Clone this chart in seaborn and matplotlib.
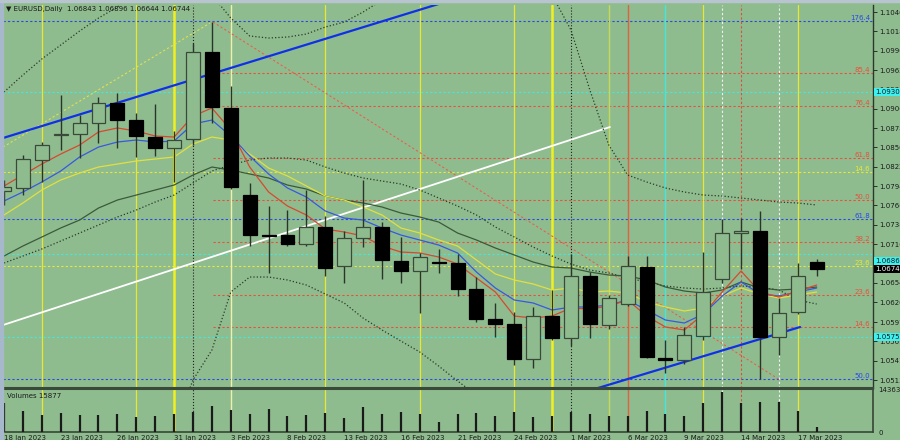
import numpy as np
import pandas as pd
import seaborn as sns
import matplotlib.pyplot as plt
from matplotlib.patches import Rectangle

# ---------------- data ----------------
dates = pd.bdate_range('2023-01-18', '2023-03-20')
idx = np.arange(len(dates))

opens = [1.07873, 1.07917, 1.08322, 1.08684, 1.08699, 1.08858, 1.09148, 1.08901, 1.08655, 1.08496,
         1.08626, 1.09886, 1.09075, 1.07815, 1.07236, 1.07236, 1.07106, 1.07352, 1.06787, 1.07193,
         1.07352, 1.06860, 1.06715, 1.06845, 1.06831, 1.06454, 1.06020, 1.05947, 1.05441, 1.06063,
         1.05745, 1.06642, 1.05933, 1.06237, 1.06773, 1.05455, 1.05426, 1.05774, 1.06599, 1.07265,
         1.07294, 1.05760, 1.06121, 1.06843]
highs = [1.08033, 1.08395, 1.08583, 1.09263, 1.08974, 1.09234, 1.09292, 1.09003, 1.09133, 1.08742,
         1.10016, 1.10320, 1.09394, 1.07989, 1.07656, 1.07598, 1.07888, 1.07511, 1.07294, 1.08033,
         1.07424, 1.07207, 1.06976, 1.07033, 1.06961, 1.06628, 1.06252, 1.06121, 1.06194, 1.06440,
         1.06961, 1.06700, 1.06367, 1.06932, 1.06932, 1.05716, 1.05904, 1.06990, 1.07468, 1.07482,
         1.07584, 1.06324, 1.06831, 1.06896]
lows = [1.07671, 1.07815, 1.08004, 1.08467, 1.08351, 1.08568, 1.08496, 1.08366, 1.08380, 1.08004,
        1.08539, 1.08858, 1.07902, 1.07077, 1.06686, 1.07077, 1.07077, 1.06642, 1.06541, 1.07062,
        1.06599, 1.06541, 1.06107, 1.06686, 1.06353, 1.05976, 1.05759, 1.05354, 1.05310, 1.05716,
        1.05629, 1.05745, 1.05875, 1.06208, 1.05455, 1.05238, 1.05368, 1.05716, 1.06541, 1.06744,
        1.05151, 1.05498, 1.06092, 1.06644]
closes = [1.07931, 1.08337, 1.08539, 1.08699, 1.08858, 1.09148, 1.08901, 1.08670, 1.08496, 1.08612,
          1.09886, 1.09090, 1.07931, 1.07236, 1.07229, 1.07106, 1.07352, 1.06758, 1.07193, 1.07352,
          1.06874, 1.06715, 1.06918, 1.06831, 1.06454, 1.06020, 1.05947, 1.05441, 1.06063, 1.05745,
          1.06642, 1.05947, 1.06324, 1.06787, 1.05470, 1.05426, 1.05788, 1.06411, 1.07265, 1.07294,
          1.05760, 1.06107, 1.06642, 1.06744]
volumes = [99200, 71800, 58100, 65000, 58100, 58100, 61600, 51300, 54700, 61600, 68400, 88900,
           75200, 61600, 78700, 54700, 58100, 65000, 47900, 85500, 61600, 68400, 61600, 34200,
           61600, 65000, 54700, 68400, 51300, 54700, 68400, 61600, 54700, 54700, 71800, 61600,
           54700, 99200, 136800, 99200, 102600, 102600, 71800, 15877]

ma_red = [1.07946, 1.08105, 1.08264, 1.08409, 1.08539, 1.08728, 1.08786, 1.08742, 1.08670, 1.08655,
          1.08959, 1.09075, 1.08757, 1.08221, 1.07859, 1.07656, 1.07526, 1.07323, 1.07280, 1.07222,
          1.07077, 1.06990, 1.06976, 1.06918, 1.06816, 1.06614, 1.06411, 1.06063, 1.06034, 1.06063,
          1.06179, 1.06165, 1.06208, 1.06295, 1.06063, 1.05904, 1.05861, 1.06092, 1.06411, 1.06715,
          1.06411, 1.06338, 1.06425, 1.06512]
ma_blue = [1.07729, 1.07859, 1.08004, 1.08163, 1.08366, 1.08510, 1.08583, 1.08612, 1.08583, 1.08597,
           1.08844, 1.08901, 1.08670, 1.08380, 1.08120, 1.07917, 1.07786, 1.07584, 1.07482, 1.07453,
           1.07338, 1.07236, 1.07164, 1.07091, 1.06976, 1.06700, 1.06469, 1.06295, 1.06252, 1.06150,
           1.06194, 1.06194, 1.06223, 1.06295, 1.06150, 1.06005, 1.05962, 1.06092, 1.06353, 1.06556,
           1.06382, 1.06353, 1.06411, 1.06469]
ma_yellow = [1.07526, 1.07700, 1.07888, 1.08033, 1.08134, 1.08221, 1.08264, 1.08308, 1.08337, 1.08366,
             1.08554, 1.08655, 1.08612, 1.08409, 1.08206, 1.08091, 1.07946, 1.07801, 1.07743, 1.07642,
             1.07526, 1.07338, 1.07265, 1.07164, 1.07077, 1.06874, 1.06672, 1.06585, 1.06527, 1.06440,
             1.06469, 1.06411, 1.06425, 1.06396, 1.06266, 1.06194, 1.06136, 1.06179, 1.06353, 1.06469,
             1.06382, 1.06324, 1.06367, 1.06411]
ma_dark = [1.06932, 1.07077, 1.07207, 1.07338, 1.07453, 1.07627, 1.07743, 1.07815, 1.07888, 1.07960,
           1.08105, 1.08221, 1.08177, 1.08120, 1.08062, 1.07960, 1.07902, 1.07801, 1.07743, 1.07700,
           1.07642, 1.07555, 1.07497, 1.07424, 1.07265, 1.07164, 1.07048, 1.06947, 1.06845, 1.06773,
           1.06758, 1.06700, 1.06657, 1.06643, 1.06585, 1.06483, 1.06425, 1.06396, 1.06440, 1.06556,
           1.06469, 1.06440, 1.06454, 1.06483]
band_mid = [1.06831, 1.06932, 1.07034, 1.07149, 1.07265, 1.07381, 1.07497, 1.07598, 1.07714, 1.07815,
            1.07989, 1.08163, 1.08250, 1.08322, 1.08351, 1.08351, 1.08322, 1.08221, 1.08134, 1.08062,
            1.08018, 1.07975, 1.07888, 1.07772, 1.07656, 1.07526, 1.07352, 1.07207, 1.07062, 1.06932,
            1.06816, 1.06729, 1.06686, 1.06614, 1.06556, 1.06498, 1.06469, 1.06454, 1.06469, 1.06498,
            1.06483, 1.06440, 1.06295, 1.06237]
band_up = [1.09307, 1.09553, 1.09785, 1.09987, 1.10190, 1.10378, 1.10538, 1.10755, 1.10929, 1.11001,
           1.10929, 1.10711, 1.10378, 1.10118, 1.10089, 1.10103, 1.10147, 1.10248, 1.10320, 1.10465,
           1.10639, 1.10755, 1.10856, 1.10929, 1.10958, 1.10958, 1.10929, 1.10856, 1.10784, 1.10711,
           1.10205, 1.09336, 1.08539, 1.08105, 1.08004, 1.07917, 1.07859, 1.07815, 1.07801, 1.07772,
           1.07743, 1.07714, 1.07700, 1.07671]
band_low = [1.04413, 1.04413, 1.04413, 1.04413, 1.04413, 1.04413, 1.04413, 1.04413, 1.04413, 1.04413,
            1.05137, 1.05571, 1.06411, 1.06628, 1.06628, 1.06585, 1.06512, 1.06382, 1.06252, 1.06034,
            1.05861, 1.05701, 1.05542, 1.05339, 1.05122, 1.04919, 1.04557, 1.04557, 1.04557, 1.04557,
            1.04557, 1.04557, 1.04557, 1.04557, 1.04557, 1.04557, 1.04557, 1.04557, 1.04557, 1.04557,
            1.04557, 1.04557, 1.04557, 1.04557]

# horizontal fibo / level lines
level_prices = [1.10335, 1.09582, 1.09307, 1.09104, 1.08351, 1.08148, 1.07743, 1.07468,
                1.07135, 1.06961, 1.06787, 1.06367, 1.05904, 1.05759, 1.05151]
level_labels = ['176.4', '85.4', '', '76.4', '61.8', '14.6', '50.0', '61.8',
                '38.2', '', '23.6', '23.6', '14.6', '', '50.0']
level_kinds = ['blue', 'red', 'cyan', 'red', 'red', 'yellow', 'red', 'blue',
               'red', 'cyan', 'yellow', 'red', 'red', 'cyan', 'blue']
red_level_start = 11.05

# vertical lines (bar index, kind)
vline_bars = [2, 7, 9, 10, 12, 17, 22, 27, 29, 30, 32, 33, 35, 37, 38, 39, 41, 42]
vline_kinds = ['yel', 'yel', 'yelthick', 'blackdot', 'pale', 'yel', 'yel', 'yel', 'yelthick',
               'blackdot', 'olive', 'red', 'cyan', 'yel', 'whitedash', 'reddash', 'whitedash', 'yel']

# trend lines: (bar0, price0, bar1, price1)
trend_blue_up = (-0.05, 1.08641, 23.33, 1.10610)
trend_white = (-0.05, 1.05933, 32.06, 1.08800)
trend_blue_low = (31.43, 1.05021, 42.12, 1.05904)
diag_red = (11.06, 1.10320, 41.06, 1.05137)
diag_yellow = (-0.05, 1.08510, 10.9, 1.10306)

price_ticks = [1.10465, 1.10185, 1.09905, 1.09625, 1.09345, 1.09065, 1.08785, 1.08505, 1.08225,
               1.07945, 1.07665, 1.07385, 1.07105, 1.06825, 1.06545, 1.06265, 1.05975, 1.05695,
               1.05415, 1.05135]
price_boxes = [(1.09307, '1.09307', '#3ff0f0', '#1a1a1a'),
               (1.06860, '1.06860', '#3ff0f0', '#1a1a1a'),
               (1.05759, '1.05759', '#3ff0f0', '#1a1a1a'),
               (1.06744, '1.06744', 'black', 'white')]

# ---------------- style ----------------
bg = '#8fbc8f'
sns.set_theme(style='white', rc={'axes.facecolor': bg, 'figure.facecolor': bg})
plt.rcParams['font.family'] = ['DejaVu Sans']
txt = '#1a1a1a'
fs = 5

fig = plt.figure(figsize=(9, 4.4), dpi=100)
# light window frame at top / left
fig.patches.append(Rectangle((0, 0), 3/900, 1, transform=fig.transFigure, color='#a8b8cc', zorder=0))
fig.patches.append(Rectangle((0, 1-2/440), 1, 2/440, transform=fig.transFigure, color='#b8c4d0', zorder=0))

ax = fig.add_axes([3/900, 1-388/440, 870/900, 383/440])
vax = fig.add_axes([3/900, 1-432/440, 870/900, 43/440], sharex=ax)

x0, x1 = -0.053, 45.98
ax.set_xlim(x0, x1)
ax.set_ylim(1.05021, 1.10567)

colmap = {'red': '#e8503c', 'blue': '#2848e8', 'cyan': '#40e8e0', 'yellow': '#e8e838'}

# horizontal levels
for p, lab, k in zip(level_prices, level_labels, level_kinds):
    start = red_level_start if k == 'red' else x0
    ax.hlines(p, start, x1, colors=colmap[k], linestyles=(0, (2, 2)), lw=0.8, zorder=1)
    if lab:
        ax.text(45.82, p, lab, ha='right', va='bottom', fontsize=fs, color=colmap[k], zorder=6)

# vertical lines
vstyle = {'yel': ('#e8e830', '-', 0.9), 'yelthick': ('#f0f020', '-', 1.8),
          'blackdot': ('#202020', ':', 0.8), 'pale': ('#f0f0a8', '-', 1.0),
          'olive': ('#c8d858', '-', 1.0), 'red': ('#e06040', '-', 1.0),
          'cyan': ('#40e8e0', '-', 1.0), 'whitedash': ('#f0f0f0', (0, (2, 2)), 0.8),
          'reddash': ('#e84838', (0, (2, 2)), 0.8)}
for b, k in zip(vline_bars, vline_kinds):
    c, ls, w = vstyle[k]
    for a in (ax, vax):
        a.axvline(b, color=c, ls=ls, lw=w, zorder=1)

# diagonals
for (b0, p0, b1, p1), c, ls, w in [(diag_red, '#e8604c', (0, (2, 2)), 0.8),
                                   (diag_yellow, '#e0e050', (0, (2, 2)), 0.8),
                                   (trend_white, 'white', '-', 1.3),
                                   (trend_blue_up, '#1030e8', '-', 1.6),
                                   (trend_blue_low, '#1030e8', '-', 1.6)]:
    ax.plot([b0, b1], [p0, p1], color=c, ls=ls, lw=w, zorder=2)

# indicator lines
df = pd.DataFrame({'bar': idx, 'red': ma_red, 'blue': ma_blue, 'yellow': ma_yellow,
                   'dark': ma_dark, 'mid': band_mid, 'up': band_up, 'low': band_low})
for col, c, ls, w in [('up', '#2a3a2a', ':', 0.9), ('low', '#2a3a2a', ':', 0.9),
                      ('mid', '#2a3a2a', ':', 0.9), ('dark', '#3a5a3a', '-', 0.9),
                      ('yellow', '#e0e040', '-', 0.9), ('blue', '#3858e0', '-', 0.9),
                      ('red', '#d84830', '-', 0.9)]:
    sns.lineplot(data=df, x='bar', y=col, ax=ax, color=c, linestyle=ls, lw=w,
                 estimator=None, zorder=3)

# candles
for i, o, h, l, c in zip(idx, opens, highs, lows, closes):
    bull = c >= o
    ax.vlines(i, l, h, color='#2a352a', lw=1.0, zorder=4)
    ax.bar(i, max(abs(c - o), 0.00003), bottom=min(o, c), width=0.74,
           color=bg if bull else 'black', edgecolor='#3a4a3a' if bull else 'black',
           lw=0.9, zorder=5)

# axes cosmetics
ax.set_xlabel('')
ax.set_ylabel('')
ax.yaxis.tick_right()
ax.set_yticks(price_ticks)
ax.set_yticklabels([f'{t:.5f}' for t in price_ticks])
ax.tick_params(axis='y', labelsize=fs, colors=txt, length=3, width=0.6, pad=1.5, direction='out')
ax.tick_params(axis='x', bottom=False, labelbottom=False)
for s in ['top', 'left']:
    ax.spines[s].set_visible(False)
ax.spines['right'].set_color('#2a3a2a')
ax.spines['right'].set_lw(1.0)
ax.spines['bottom'].set_color('#3a4a3a')
ax.spines['bottom'].set_lw(1.5)

for p, t, fc, tc in price_boxes:
    ax.text(1.002, p, t, transform=ax.get_yaxis_transform(), ha='left', va='center',
            fontsize=fs, color=tc, clip_on=False, zorder=10,
            bbox=dict(boxstyle='square,pad=0.12', fc=fc, ec='none'))

# volume panel
vax.vlines(idx, 0, volumes, color='#1a1a1a', lw=1.6, zorder=3)
vax.set_ylim(0, 147000)
vax.yaxis.tick_right()
vax.set_yticks([0, 143639])
vax.set_yticklabels(['0', '143639'])
vax.tick_params(axis='y', labelsize=fs, colors=txt, length=0, pad=4)
tick_bars = idx[::3]
vax.set_xticks(tick_bars)
vax.set_xticklabels([f'{d.day} {d.strftime("%b %Y")}' for d in dates[::3]], ha='left')
vax.tick_params(axis='x', labelsize=fs, colors=txt, length=2, width=0.6, pad=0.5)
vax.spines['left'].set_visible(False)
for s in ['top', 'right', 'bottom']:
    vax.spines[s].set_color('#3a4a3a')
vax.spines['top'].set_lw(1.5)
vax.set_xlabel('')
vax.set_ylabel('')
vax.text(0.005, 0.9, 'Volumes 15877', transform=vax.transAxes, fontsize=fs, color=txt, va='top')

fig.text(6/900, 1-9/440, '\u25bc EURUSD,Daily  1.06843 1.06896 1.06644 1.06744', fontsize=fs,
         color=txt, va='center')

fig.savefig('out.png', dpi=100, facecolor=bg)
